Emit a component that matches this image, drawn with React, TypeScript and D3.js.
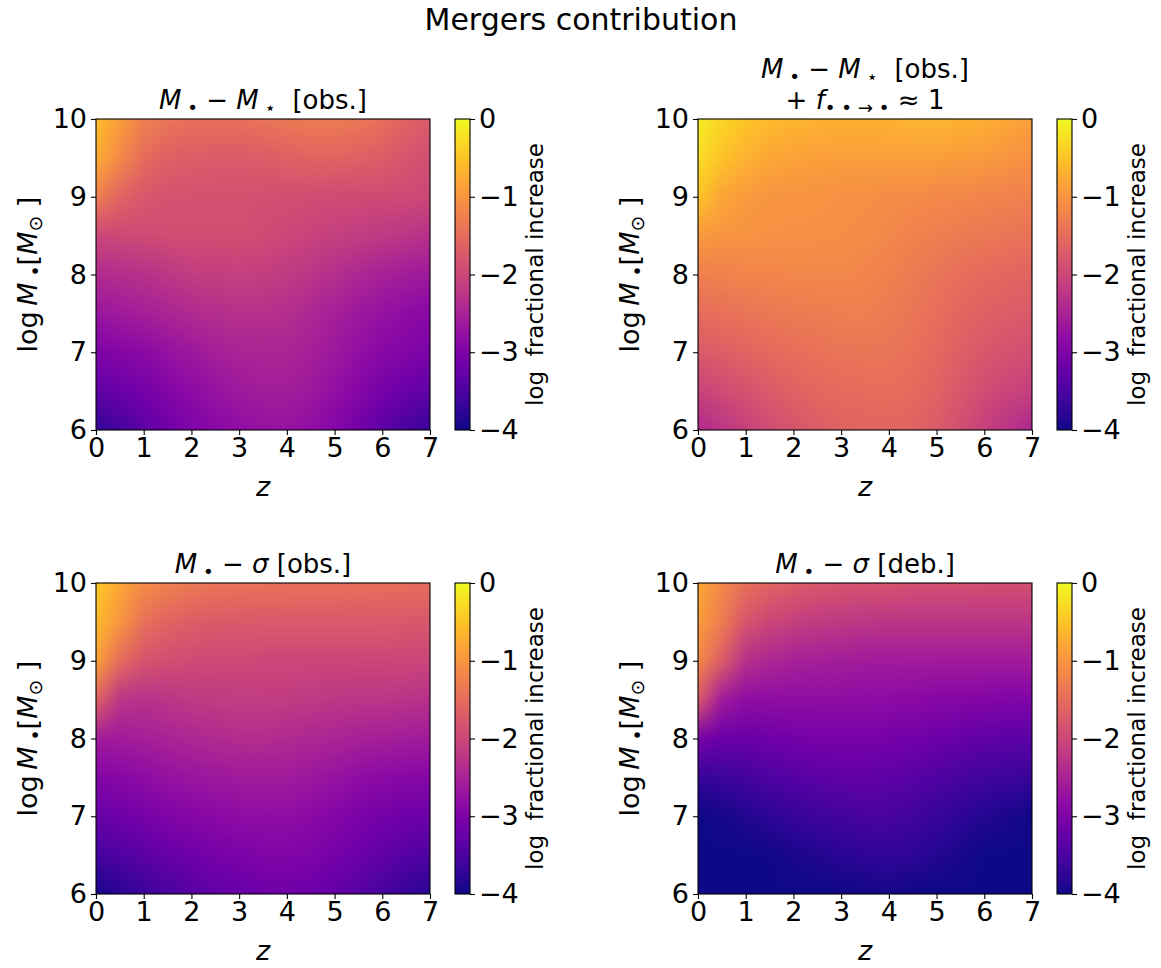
import React, { useRef, useEffect } from "react";
import * as d3 from "d3";

// grid: z (columns) and log M (rows, top to bottom)
const zValues = [0, 0.5, 1, 1.5, 2, 2.5, 3, 3.5, 4, 4.5, 5, 5.5, 6, 6.5, 7];
const logMValues = [10, 9.5, 9, 8.5, 8, 7.5, 7, 6.5, 6];

const zTicks = [0, 1, 2, 3, 4, 5, 6, 7];
const logMTicks = [6, 7, 8, 9, 10];
const cbarTicks = [0, -1, -2, -3, -4];

// log fractional increase
const mMstarObs = [
  [-0.55, -0.9, -1.25, -1.4, -1.45, -1.45, -1.45, -1.4, -1.35, -1.3, -1.3, -1.35, -1.45, -1.6, -1.75],
  [-0.75, -1.15, -1.5, -1.65, -1.7, -1.72, -1.72, -1.7, -1.65, -1.6, -1.6, -1.65, -1.7, -1.8, -1.9],
  [-1.25, -1.6, -1.78, -1.85, -1.85, -1.85, -1.85, -1.88, -1.9, -1.92, -1.95, -1.95, -1.95, -1.95, -2.0],
  [-2.0, -1.98, -1.95, -1.92, -1.9, -1.9, -1.9, -1.95, -2.0, -2.05, -2.1, -2.15, -2.2, -2.25, -2.3],
  [-2.4, -2.35, -2.3, -2.22, -2.15, -2.12, -2.1, -2.12, -2.18, -2.25, -2.35, -2.45, -2.52, -2.58, -2.65],
  [-2.7, -2.62, -2.55, -2.47, -2.4, -2.35, -2.32, -2.32, -2.35, -2.45, -2.55, -2.65, -2.75, -2.82, -2.88],
  [-3.0, -2.92, -2.85, -2.75, -2.65, -2.55, -2.5, -2.47, -2.47, -2.55, -2.65, -2.77, -2.88, -2.95, -3.02],
  [-3.3, -3.2, -3.08, -2.95, -2.83, -2.72, -2.63, -2.58, -2.58, -2.65, -2.78, -2.92, -3.08, -3.2, -3.32],
  [-3.75, -3.55, -3.35, -3.15, -3.0, -2.88, -2.8, -2.75, -2.73, -2.8, -2.95, -3.12, -3.35, -3.52, -3.68],
];

const mMstarObsF1 = [
  [-0.12, -0.33, -0.5, -0.6, -0.65, -0.68, -0.7, -0.7, -0.68, -0.66, -0.65, -0.68, -0.72, -0.8, -0.9],
  [-0.25, -0.52, -0.7, -0.8, -0.85, -0.88, -0.9, -0.9, -0.9, -0.9, -0.9, -0.92, -0.95, -1.0, -1.05],
  [-0.5, -0.82, -0.95, -1.0, -1.02, -1.03, -1.05, -1.07, -1.1, -1.12, -1.15, -1.17, -1.2, -1.22, -1.25],
  [-0.95, -1.0, -1.03, -1.05, -1.05, -1.07, -1.08, -1.12, -1.17, -1.22, -1.28, -1.32, -1.35, -1.38, -1.42],
  [-1.25, -1.22, -1.2, -1.18, -1.17, -1.17, -1.17, -1.2, -1.25, -1.32, -1.4, -1.47, -1.53, -1.57, -1.6],
  [-1.5, -1.45, -1.4, -1.35, -1.32, -1.3, -1.28, -1.28, -1.32, -1.38, -1.48, -1.57, -1.65, -1.7, -1.75],
  [-1.75, -1.68, -1.6, -1.53, -1.47, -1.43, -1.4, -1.38, -1.4, -1.45, -1.55, -1.67, -1.78, -1.85, -1.9],
  [-2.05, -1.95, -1.83, -1.72, -1.63, -1.56, -1.52, -1.49, -1.48, -1.52, -1.62, -1.77, -1.92, -2.02, -2.1],
  [-2.4, -2.25, -2.08, -1.92, -1.8, -1.7, -1.63, -1.6, -1.58, -1.62, -1.73, -1.9, -2.1, -2.28, -2.45],
];

const mSigmaObs = [
  [-0.45, -0.8, -1.1, -1.25, -1.33, -1.38, -1.4, -1.42, -1.43, -1.44, -1.45, -1.46, -1.47, -1.48, -1.5],
  [-0.6, -1.0, -1.45, -1.6, -1.68, -1.72, -1.74, -1.75, -1.75, -1.75, -1.75, -1.75, -1.75, -1.76, -1.77],
  [-0.85, -1.5, -1.8, -1.9, -1.95, -1.97, -1.98, -2.0, -2.0, -2.0, -2.0, -2.0, -2.0, -2.0, -2.02],
  [-1.6, -2.25, -2.3, -2.25, -2.2, -2.17, -2.15, -2.15, -2.17, -2.2, -2.22, -2.24, -2.25, -2.27, -2.3],
  [-2.6, -2.6, -2.55, -2.5, -2.45, -2.4, -2.37, -2.37, -2.4, -2.44, -2.48, -2.52, -2.55, -2.58, -2.6],
  [-2.95, -2.88, -2.82, -2.75, -2.7, -2.65, -2.62, -2.6, -2.62, -2.67, -2.73, -2.8, -2.85, -2.88, -2.92],
  [-3.25, -3.15, -3.07, -2.98, -2.92, -2.86, -2.82, -2.8, -2.8, -2.85, -2.93, -3.02, -3.1, -3.15, -3.2],
  [-3.55, -3.45, -3.35, -3.25, -3.15, -3.07, -3.02, -2.98, -2.97, -3.0, -3.08, -3.18, -3.3, -3.4, -3.47],
  [-3.95, -3.8, -3.65, -3.52, -3.4, -3.3, -3.22, -3.17, -3.15, -3.18, -3.28, -3.4, -3.55, -3.7, -3.82],
];

const mSigmaDeb = [
  [-0.8, -1.15, -1.45, -1.6, -1.7, -1.76, -1.8, -1.82, -1.84, -1.85, -1.86, -1.87, -1.88, -1.89, -1.9],
  [-0.9, -1.3, -1.8, -2.0, -2.1, -2.16, -2.2, -2.22, -2.24, -2.25, -2.25, -2.25, -2.25, -2.25, -2.25],
  [-1.15, -1.7, -2.3, -2.45, -2.52, -2.56, -2.58, -2.6, -2.6, -2.6, -2.6, -2.6, -2.6, -2.6, -2.6],
  [-1.75, -2.6, -2.8, -2.8, -2.8, -2.8, -2.8, -2.82, -2.84, -2.87, -2.9, -2.92, -2.95, -2.96, -2.97],
  [-3.05, -3.2, -3.2, -3.15, -3.1, -3.07, -3.05, -3.05, -3.08, -3.12, -3.18, -3.24, -3.3, -3.33, -3.35],
  [-3.7, -3.65, -3.57, -3.48, -3.4, -3.35, -3.3, -3.3, -3.32, -3.38, -3.46, -3.54, -3.6, -3.64, -3.67],
  [-4.0, -3.95, -3.87, -3.78, -3.7, -3.62, -3.57, -3.54, -3.54, -3.6, -3.68, -3.77, -3.85, -3.92, -3.97],
  [-4.0, -4.0, -4.0, -3.97, -3.92, -3.86, -3.8, -3.76, -3.75, -3.78, -3.85, -3.93, -4.0, -4.0, -4.0],
  [-4.0, -4.0, -4.0, -4.0, -4.0, -4.0, -3.98, -3.96, -3.95, -3.97, -4.0, -4.0, -4.0, -4.0, -4.0],
];

type Part = { t: string; it?: boolean; sub?: boolean };

const titleMstar: Part[] = [
  { t: "M", it: true }, { t: " •", sub: true }, { t: " − " },
  { t: "M", it: true }, { t: " ⋆", sub: true }, { t: "  [obs.]" },
];
const titleF1: Part[] = [
  { t: "+ " }, { t: "f", it: true }, { t: "• • → •", sub: true }, { t: " ≈ 1" },
];
const titleSigmaObs: Part[] = [
  { t: "M", it: true }, { t: " •", sub: true }, { t: " − " }, { t: "σ", it: true }, { t: " [obs.]" },
];
const titleSigmaDeb: Part[] = [
  { t: "M", it: true }, { t: " •", sub: true }, { t: " − " }, { t: "σ", it: true }, { t: " [deb.]" },
];
const yLabel: Part[] = [
  { t: "log\u2009" }, { t: "M", it: true }, { t: " •", sub: true }, { t: "[" }, { t: "M", it: true },
  { t: "⊙", sub: true }, { t: " ]" },
];

const FONT = "DejaVu Sans";
const W = 334;
const H = 311;
const TICK = 27;

const layout = [
  { grid: mMstarObs, titles: [titleMstar], left: 96, top: 119 },
  { grid: mMstarObsF1, titles: [titleMstar, titleF1], left: 698, top: 119 },
  { grid: mSigmaObs, titles: [titleSigmaObs], left: 96, top: 583 },
  { grid: mSigmaDeb, titles: [titleSigmaDeb], left: 698, top: 583 },
];

function mathText(sel: any, parts: Part[], size: number) {
  let shifted = 0;
  parts.forEach((p) => {
    const want = p.sub ? size * 0.2 : 0;
    sel
      .append("tspan")
      .attr("font-style", p.it ? "italic" : "normal")
      .attr("font-size", p.sub ? size * 0.7 : size)
      .attr("dy", want - shifted)
      .text(p.t);
    shifted = want;
  });
}

export default function App() {
  const ref = useRef<SVGSVGElement>(null);

  useEffect(() => {
    const svg = d3.select(ref.current).html("");
    const color = d3.scaleSequential(d3.interpolatePlasma).domain([-4, 0]).clamp(true);

    svg
      .append("text")
      .attr("x", 581)
      .attr("y", 30)
      .attr("text-anchor", "middle")
      .attr("font-size", 30)
      .attr("font-family", FONT)
      .text("Mergers contribution");

    // colorbar gradient
    const defs = svg.append("defs");
    const grad = defs
      .append("linearGradient")
      .attr("id", "plasma")
      .attr("x1", 0).attr("y1", 1).attr("x2", 0).attr("y2", 0);
    d3.range(0, 1.0001, 0.05).forEach((t) => {
      grad.append("stop").attr("offset", t).attr("stop-color", d3.interpolatePlasma(t));
    });

    layout.forEach((p, idx) => {
      const x = d3.scaleLinear().domain([0, 7]).range([p.left, p.left + W]);
      const y = d3.scaleLinear().domain([6, 10]).range([p.top + H, p.top]);

      // heatmap: grid points become pixel centres, canvas smooths between them
      const cols = zValues.length;
      const rows = logMValues.length;
      const small = document.createElement("canvas");
      small.width = cols;
      small.height = rows;
      const sctx = small.getContext("2d")!;
      const img = sctx.createImageData(cols, rows);
      p.grid.forEach((row, j) =>
        row.forEach((v, i) => {
          const c = d3.rgb(color(v));
          const k = 4 * (j * cols + i);
          img.data[k] = c.r;
          img.data[k + 1] = c.g;
          img.data[k + 2] = c.b;
          img.data[k + 3] = 255;
        })
      );
      sctx.putImageData(img, 0, 0);

      const dz = (zValues[1] - zValues[0]) / 2;
      const dm = (logMValues[0] - logMValues[1]) / 2;
      const ix = x(zValues[0] - dz);
      const iw = x(zValues[cols - 1] + dz) - ix;
      const iy = y(logMValues[0] + dm);
      const ih = y(logMValues[rows - 1] - dm) - iy;

      const big = document.createElement("canvas");
      big.width = Math.round(iw);
      big.height = Math.round(ih);
      const bctx = big.getContext("2d")!;
      bctx.imageSmoothingEnabled = true;
      bctx.imageSmoothingQuality = "medium";
      bctx.drawImage(small, 0, 0, big.width, big.height);

      defs
        .append("clipPath")
        .attr("id", "clip" + idx)
        .append("rect")
        .attr("x", p.left).attr("y", p.top).attr("width", W).attr("height", H);

      svg
        .append("image")
        .attr("clip-path", `url(#clip${idx})`)
        .attr("x", ix).attr("y", iy).attr("width", iw).attr("height", ih)
        .attr("preserveAspectRatio", "none")
        .attr("href", big.toDataURL());

      svg
        .append("rect")
        .attr("x", p.left).attr("y", p.top).attr("width", W).attr("height", H)
        .attr("fill", "none").attr("stroke", "#000").attr("stroke-width", 1.1);

      const styleAxis = (g: any) => {
        g.select(".domain").remove();
        g.selectAll("line").attr("stroke", "#000").attr("stroke-width", 1.1);
        g.selectAll("text").attr("font-size", TICK).attr("font-family", FONT).attr("fill", "#000");
      };

      svg
        .append("g")
        .attr("transform", `translate(0,${p.top + H})`)
        .call(d3.axisBottom(x).tickValues(zTicks).tickSize(5).tickPadding(3).tickFormat(d3.format("d")))
        .call(styleAxis);

      svg
        .append("g")
        .attr("transform", `translate(${p.left},0)`)
        .call(d3.axisLeft(y).tickValues(logMTicks).tickSize(5).tickPadding(4).tickFormat(d3.format("d")))
        .call(styleAxis);

      // titles
      p.titles.forEach((parts, k) => {
        const t = svg
          .append("text")
          .attr("x", p.left + W / 2)
          .attr("y", p.top - 10 - (p.titles.length - 1 - k) * 31)
          .attr("text-anchor", "middle")
          .attr("font-family", FONT)
          .attr("font-size", 26)
          .style("white-space", "pre");
        mathText(t, parts, 26);
      });

      svg
        .append("text")
        .attr("x", p.left + W / 2)
        .attr("y", p.top + H + 66)
        .attr("text-anchor", "middle")
        .attr("font-family", FONT)
        .attr("font-style", "italic")
        .attr("font-size", 27)
        .text("z");

      const yl = svg
        .append("text")
        .attr("transform", `translate(${p.left - 59},${p.top + H / 2}) rotate(-90)`)
        .attr("text-anchor", "middle")
        .attr("font-family", FONT)
        .attr("font-size", 27)
        .style("white-space", "pre");
      mathText(yl, yLabel, 27);

      // colorbar
      const cl = p.left + W + 25;
      const cw = 15;
      const cy = d3.scaleLinear().domain([-4, 0]).range([p.top + H, p.top]);
      svg
        .append("rect")
        .attr("x", cl).attr("y", p.top).attr("width", cw).attr("height", H)
        .attr("fill", "url(#plasma)")
        .attr("stroke", "#000").attr("stroke-width", 1.1);
      svg
        .append("g")
        .attr("transform", `translate(${cl + cw},0)`)
        .call(
          d3.axisRight(cy)
            .tickValues(cbarTicks)
            .tickSize(5)
            .tickPadding(4)
            .tickFormat((d: any) => (d < 0 ? "−" + Math.abs(d) : String(d)))
        )
        .call(styleAxis);
      svg
        .append("text")
        .attr("transform", `translate(${cl + cw + 73},${p.top + H / 2}) rotate(-90)`)
        .attr("text-anchor", "middle")
        .attr("font-family", FONT)
        .attr("font-size", 23)
        .style("white-space", "pre")
        .text("log  fractional increase");
    });
  }, []);

  return (
    <svg
      ref={ref}
      width={1161}
      height={968}
      style={{ position: "absolute", left: 0, top: 0, background: "#fff" }}
    />
  );
}
